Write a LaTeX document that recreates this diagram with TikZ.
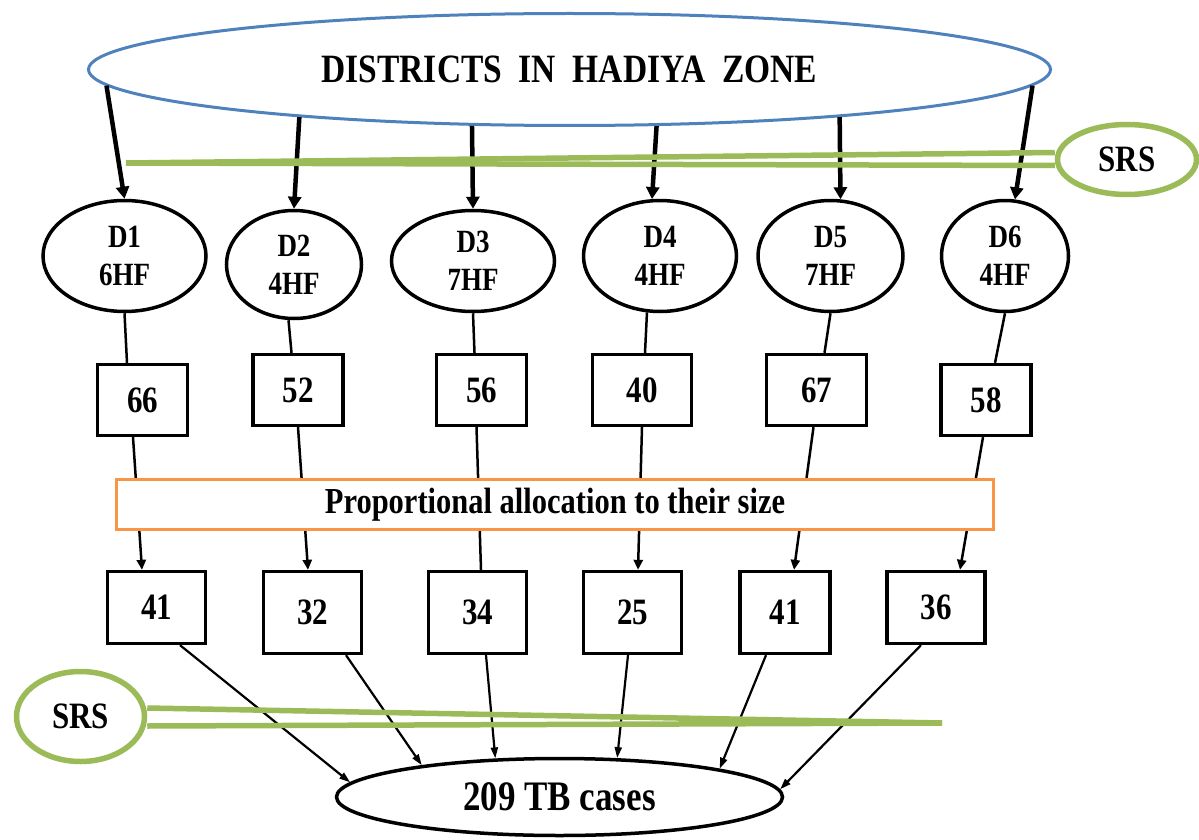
\documentclass[tikz,border=0pt]{standalone}
\usepackage{fontspec}
\setmainfont{Liberation Serif}
\usepackage{graphicx}
\usepackage{xcolor}
\usetikzlibrary{arrows.meta}
\usetikzlibrary{shapes.geometric}

\definecolor{zoneblue}{HTML}{4F81BD}
\definecolor{srsgreen}{HTML}{9BBB59}
\definecolor{proporange}{HTML}{F79646}

\newcommand{\tall}[1]{\scalebox{1}[1.2]{#1}}

\begin{document}
\begin{tikzpicture}[x=1pt,y=-1pt,
        district/.style={draw,ellipse,line width=3.5pt,inner sep=0pt,align=center,font=\bfseries\fontsize{27}{38}\selectfont},
        numbox/.style={draw,line width=3.3pt,inner sep=0pt,minimum width=90pt,minimum height=71pt,font=\bfseries\fontsize{31}{31}\selectfont},
        samplebox/.style={numbox,minimum width=98pt,minimum height=82pt},
        srs/.style={draw=srsgreen,ellipse,line width=5.5pt,inner sep=0pt,font=\bfseries\fontsize{31}{31}\selectfont},
        srsline/.style={srsgreen,line width=5.5pt},
        pick/.style={->,>={Triangle[length=12pt,width=13pt]},line width=4.5pt},
        feed/.style={line width=2.5pt},
        flow/.style={feed,->,>={Triangle[length=10pt,width=9pt]}},
        into/.style={->,>={Triangle[length=11pt,width=7pt]},line width=2.2pt}]
    \useasboundingbox (0,0) rectangle (1199,840);

    \node[draw=zoneblue,ellipse,line width=3pt,minimum width=962pt,minimum height=112pt,inner sep=0pt,font=\bfseries\fontsize{33.5}{36}\selectfont] (zone) at (569.5,69.5) {\tall{DISTRICTS\ \ IN\ \ HADIYA\ \ ZONE}};

    % districts
    \node[district,minimum width=163pt,minimum height=111pt] (d1) at (124.5,256) {\tall{D1}\\\tall{6HF}};
    \node[district,minimum width=135pt,minimum height=108pt] (d2) at (294,264.5) {\tall{D2}\\\tall{4HF}};
    \node[district,minimum width=163pt,minimum height=101pt] (d3) at (473,261) {\tall{D3}\\\tall{7HF}};
    \node[district,minimum width=153pt,minimum height=111pt] (d4) at (660,256) {\tall{D4}\\\tall{4HF}};
    \node[district,minimum width=145pt,minimum height=111pt] (d5) at (830.5,256) {\tall{D5}\\\tall{7HF}};
    \node[district,minimum width=127pt,minimum height=111pt] (d6) at (1005,256) {\tall{D6}\\\tall{4HF}};

    \node[numbox] (n1) at (142.5,400) {\tall{66}};
    \node[numbox] (n2) at (298,390) {\tall{52}};
    \node[numbox] (n3) at (481.5,390) {\tall{56}};
    \node[numbox,minimum width=99pt] (n4) at (642,390) {\tall{40}};
    \node[numbox,minimum width=100pt] (n5) at (816.5,390) {\tall{67}};
    \node[numbox] (n6) at (986,400) {\tall{58}};

    \node[samplebox,minimum height=72pt] (s1) at (156.5,607.5) {\tall{41}};
    \node[samplebox] (s2) at (312.5,612.5) {\tall{32}};
    \node[samplebox] (s3) at (477.5,612.5) {\tall{34}};
    \node[samplebox] (s4) at (632.5,612.5) {\tall{25}};
    \node[samplebox,minimum width=90pt] (s5) at (785,612.5) {\tall{41}};
    \node[samplebox,minimum height=72pt] (s6) at (936,607.5) {\tall{36}};

    \node[draw,ellipse,line width=3.5pt,minimum width=446pt,minimum height=77pt,inner sep=0pt,font=\bfseries\fontsize{35}{36}\selectfont] (cases) at (559.5,797) {\tall{209 TB cases}};

    \node[srs,minimum width=139pt,minimum height=70pt] (srsA) at (1127,159.5) {\tall{SRS}};
    \node[srs,minimum width=128pt,minimum height=90pt] (srsB) at (80.5,716.5) {\tall{SRS}};

    \draw[pick] (zone.182) -- (d1.north);
    \draw[pick] (zone.190) -- (d2.north);
    \draw[pick] (zone.210) -- (d3.north);
    \draw[pick] (zone.327) -- (d4.98);
    \draw[pick] (zone.350) -- (d5.80);
    \draw[pick] (zone.358) -- (d6.80);

    \draw[feed] (d1.south) -- ([shift={(-15.5,0)}]n1.north);
    \draw[feed] ([shift={(-5.5,0)}]d2.south) -- ([shift={(-6.5,0)}]n2.north);
    \draw[feed] (d3.south) -- ([shift={(-7,0)}]n3.north);
    \draw[feed] (d4.257) -- ([shift={(3,0)}]n4.north);
    \draw[feed] (d5.south) -- ([shift={(8,0)}]n5.north);
    \draw[feed] (d6.south) -- ([shift={(9,0)}]n6.north);

    \draw[flow] ([shift={(-9.5,0)}]n1.south) -- ([shift={(-14.5,0)}]s1.north);
    \draw[flow] (n2.south) -- ([shift={(-4.5,0)}]s2.north);
    \draw[feed] ([shift={(-5,0)}]n3.south) -- ([shift={(3.5,0)}]s3.north);
    \draw[flow] (n4.south) -- ([shift={(5.5,0)}]s4.north);
    \draw[flow] ([shift={(-3,0)}]n5.south) -- ([shift={(9,0)}]s5.north);
    \draw[flow] ([shift={(-3,0)}]n6.south) -- ([shift={(24,0)}]s6.north);

    \node[draw=proporange,fill=white,line width=3.3pt,minimum width=877pt,minimum height=50pt,inner sep=0pt,font=\bfseries\fontsize{30.5}{32}\selectfont] (alloc) at (555,504.5) {\tall{Proportional allocation to their size}};

    \draw[into] ([shift={(23.5,0)}]s1.south) -- (cases.176);
    \draw[into] ([shift={(33.5,0)}]s2.south) -- (cases.167);
    \draw[into] ([shift={(8.5,0)}]s3.south) -- (cases.149);
    \draw[into] ([shift={(-4.5,0)}]s4.south) -- (cases.34);
    \draw[into] ([shift={(-19,0)}]s5.south) -- (cases.10);
    \draw[into] ([shift={(-15,0)}]s6.south) -- (cases.2);

    % SRS wedges
    \coordinate (srsTipA) at (126,163);
    \draw[srsline] ([shift={(0,-7)}]srsA.west) -- (srsTipA);
    \draw[srsline] ([shift={(0,6)}]srsA.west) -- (srsTipA);
    \coordinate (srsTipB) at (942,723);
    \draw[srsline] ([shift={(0,-8.5)}]srsB.east) -- (srsTipB);
    \draw[srsline] ([shift={(0,9.5)}]srsB.east) -- (srsTipB);
\end{tikzpicture}
\end{document}
